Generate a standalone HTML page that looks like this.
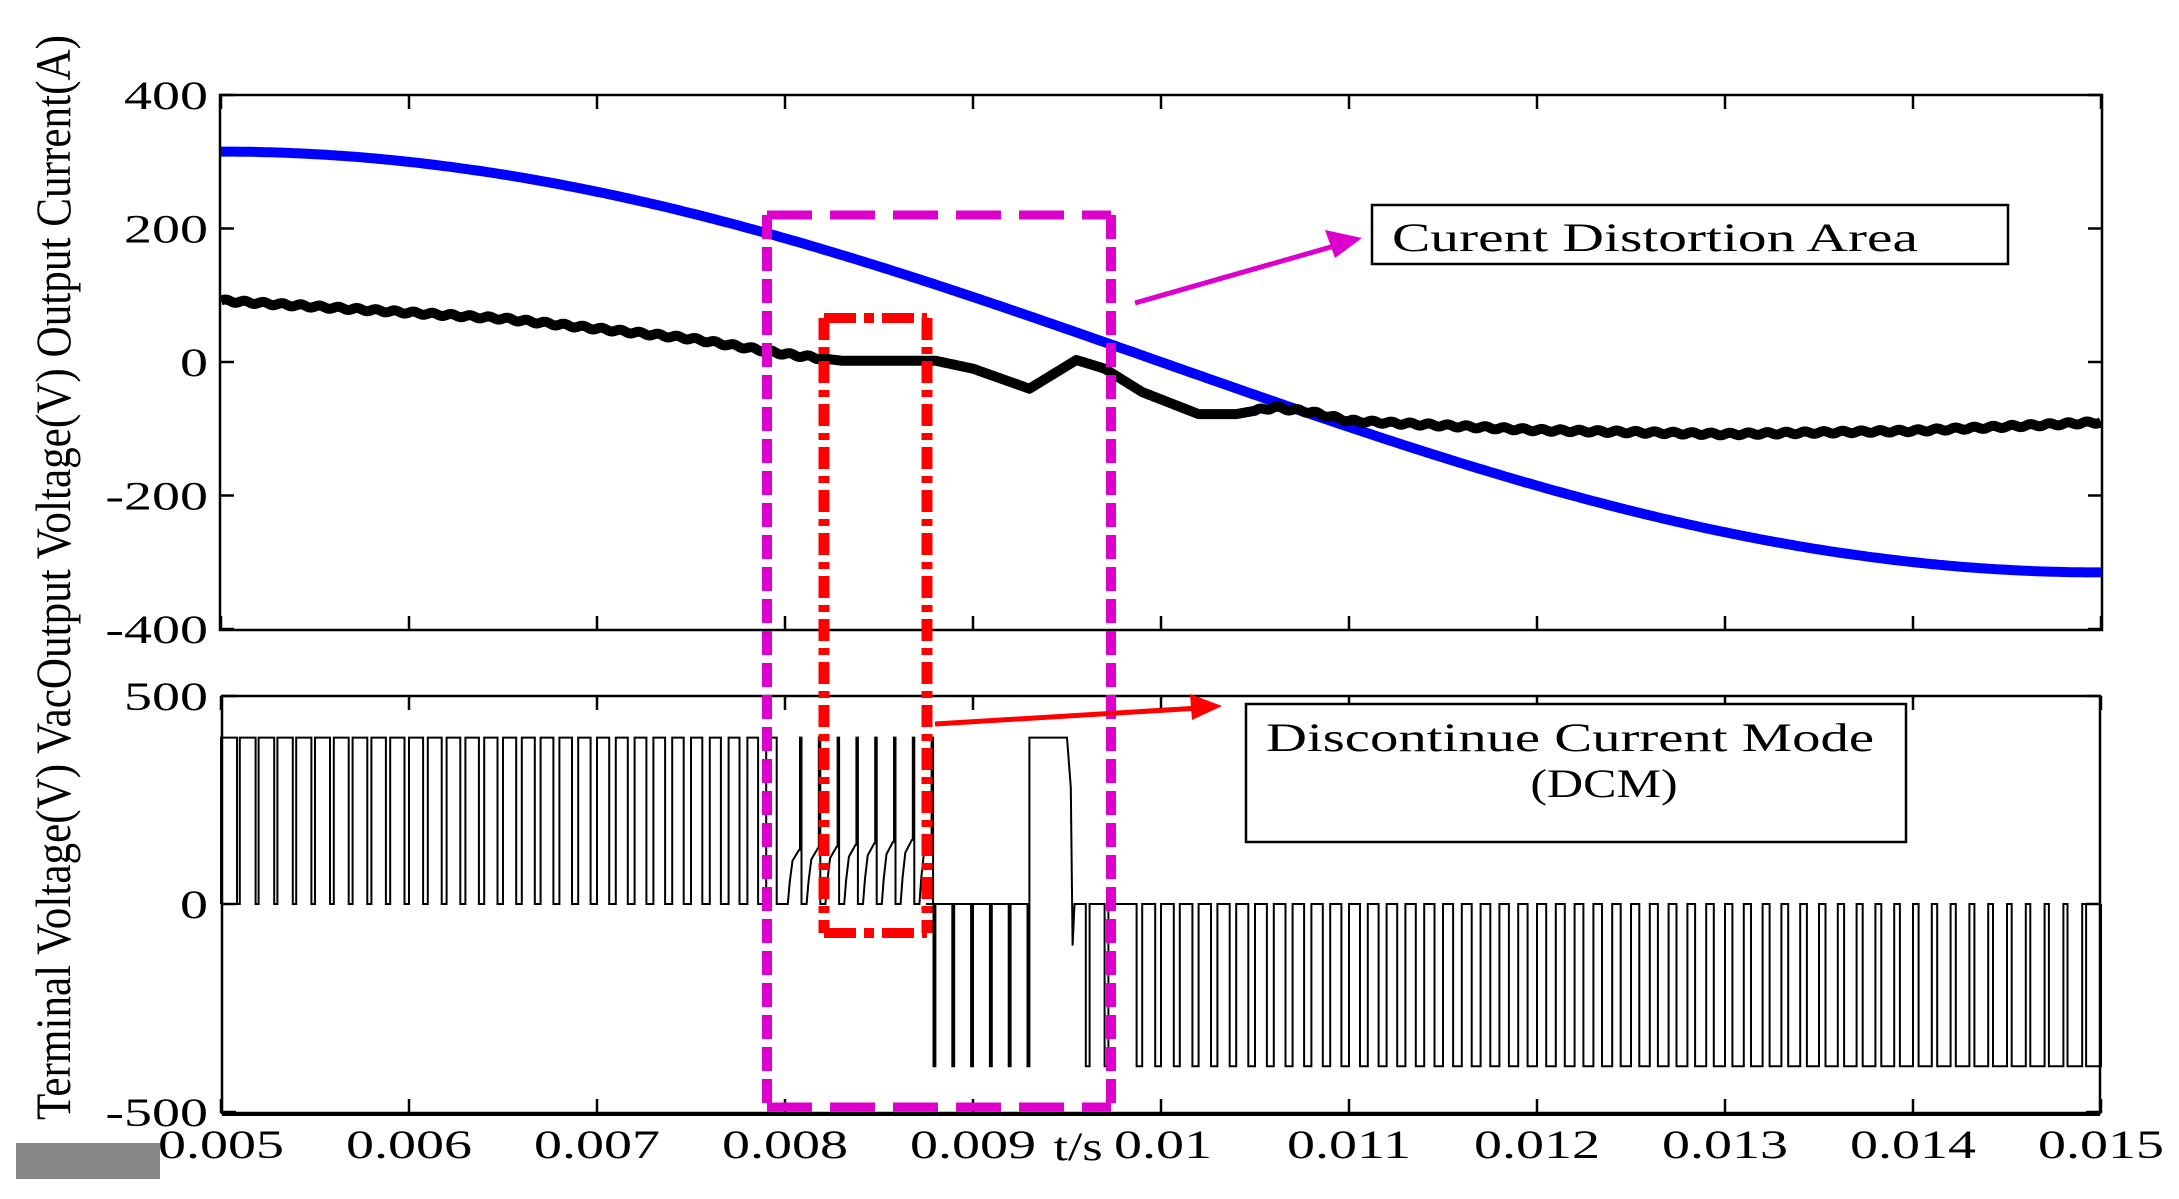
<!DOCTYPE html>
<html><head><meta charset="utf-8"><style>
html,body{margin:0;padding:0;background:#fff;}
svg{display:block;}
text{font-family:"Liberation Serif",serif;fill:#000;}
</style></head><body>
<svg id="s" width="2179" height="1199" viewBox="0 0 2179 1199" xmlns="http://www.w3.org/2000/svg">
<rect width="2179" height="1199" fill="#fff"/>
<g id="g"></g>
</svg>
<script>
var NS="http://www.w3.org/2000/svg",G=document.getElementById('g');
function el(n,a,t){var e=document.createElementNS(NS,n);for(var k in a)e.setAttribute(k,a[k]);if(t!=null)e.textContent=t;G.appendChild(e);return e;}
function X(t){return 221+(t-0.005)*188000;}
function YT(v){return 362-v*0.668;}
function YB(v){return 904-v*0.416;}
el('rect',{x:220,y:95,width:1882,height:535,fill:'none',stroke:'#000','stroke-width':2.5});
el('rect',{x:222,y:696,width:1878,height:417,fill:'none',stroke:'#000','stroke-width':2.5});
el('line',{x1:222,y1:1114,x2:2100,y2:1114,stroke:'#000','stroke-width':4});
for(var i=0;i<=10;i++){var x=221+i*188;
 el('line',{x1:x,y1:95,x2:x,y2:109,stroke:'#000','stroke-width':2.5});
 el('line',{x1:x,y1:630,x2:x,y2:616,stroke:'#000','stroke-width':2.5});
 el('line',{x1:x,y1:696,x2:x,y2:710,stroke:'#000','stroke-width':2.5});
 el('line',{x1:x,y1:1113,x2:x,y2:1099,stroke:'#000','stroke-width':2.5});
}
var yt=[[400,95],[200,228.5],[0,362],[-200,495.5],[-400,629]];
yt.forEach(function(p){
 el('line',{x1:220,y1:p[1],x2:234,y2:p[1],stroke:'#000','stroke-width':2.5});
 el('line',{x1:2102,y1:p[1],x2:2088,y2:p[1],stroke:'#000','stroke-width':2.5});
 el('text',{x:0,y:0,'font-size':40,'text-anchor':'end',transform:'translate(208,'+(p[1]+14)+') scale(1.4,1)'},String(p[0]));
});
[[500,696],[0,904],[-500,1112]].forEach(function(p){
 el('line',{x1:222,y1:p[1],x2:236,y2:p[1],stroke:'#000','stroke-width':2.5});
 el('line',{x1:2100,y1:p[1],x2:2086,y2:p[1],stroke:'#000','stroke-width':2.5});
 el('text',{x:0,y:0,'font-size':40,'text-anchor':'end',transform:'translate(208,'+(p[1]+14)+') scale(1.4,1)'},String(p[0]));
});
var xl=['0.005','0.006','0.007','0.008','0.009','0.01','0.011','0.012','0.013','0.014','0.015'];
xl.forEach(function(s,i){el('text',{x:0,y:0,'font-size':40,'text-anchor':'middle',transform:'translate('+(221+i*188+(s=='0.01'?2:0))+',1158) scale(1.4,1)'},s);});
el('text',{x:0,y:0,'font-size':40,'text-anchor':'middle',transform:'translate(1078,1160) scale(1.3,1)'},'t/s');
el('text',{x:0,y:0,'font-size':50,textLength:1085,lengthAdjust:'spacingAndGlyphs',transform:'translate(70,1120) rotate(-90)'},'Terminal Voltage(V) VacOutput Voltage(V) Output Current(A)');
el('rect',{x:16,y:1143,width:144,height:36,fill:'#888'});
var d='';for(var t=0.005;t<=0.015001;t+=0.00002){var v=315*Math.cos(100*Math.PI*(t-0.005));d+=(d?'L':'M')+X(t).toFixed(1)+','+YT(v).toFixed(1);}
el('path',{d:d,fill:'none',stroke:'#0000ff','stroke-width':10});
var K=[[0.005,92],[0.0065,65],[0.0075,35],[0.008,12],[0.0083,2],[0.0088,2],[0.009,-10],[0.0093,-40],[0.00955,3],[0.0097,-10],[0.0099,-45],[0.0102,-78],[0.0104,-78],[0.0106,-68],[0.0108,-75],[0.011,-88],[0.012,-102],[0.013,-108],[0.014,-103],[0.015,-90]];
function iv(t){for(var i=0;i<K.length-1;i++){if(t<=K[i+1][0]){var f=(t-K[i][0])/(K[i+1][0]-K[i][0]);return K[i][1]+f*(K[i+1][1]-K[i][1]);}}return K[K.length-1][1];}
d='';for(var t=0.005;t<=0.015001;t+=0.00001){var v=iv(t);if(t<0.0082||t>0.0105){v+=2*Math.sin(2*Math.PI*t/0.0001);}d+=(d?'L':'M')+X(t).toFixed(1)+','+YT(v).toFixed(1);}
el('path',{d:d,fill:'none',stroke:'#000','stroke-width':10,'stroke-linejoin':'round'});
var P=0.0001,pts=[];function L(t,v){pts.push(X(t).toFixed(1)+','+YB(v).toFixed(1));}
L(0.005,0);
for(var t0=0.005;t0<0.008-1e-9;t0+=P){var dd=0.85-0.3*(t0-0.005)/0.003;L(t0,0);L(t0,400);L(t0+dd*P,400);L(t0+dd*P,0);}
for(var t0=0.008;t0<0.00875-1e-9;t0+=P){var k=(t0-0.008)/0.00075;var lv=130+30*k;L(t0,0);L(t0+0.15*P,0);L(t0+0.25*P,lv*0.4);L(t0+0.4*P,lv*0.8);L(t0+0.75*P,lv);L(t0+0.8*P,lv);L(t0+0.8*P,400);L(t0+0.88*P,400);L(t0+0.88*P,0);}
for(var t0=0.00875;t0<0.0093-1e-9;t0+=P){L(t0,0);L(t0+0.4*P,0);L(t0+0.4*P,-390);L(t0+0.5*P,-390);L(t0+0.5*P,0);}
L(0.0093,0);L(0.0093,400);L(0.0095,400);L(0.00952,280);L(0.00953,-100);L(0.00954,0);
L(0.0096,0);L(0.0096,-390);L(0.00962,-390);L(0.00962,0);L(0.0097,0);L(0.0097,-390);L(0.00972,-390);L(0.00972,0);
for(var t0=0.0098;t0<0.015-1e-9;t0+=P){var dd=0.3+0.5*(t0-0.0098)/0.0052;L(t0,0);L(t0+(1-dd)*P,0);L(t0+(1-dd)*P,-390);L(t0+P,-390);L(t0+P,0);}
el('path',{d:'M'+pts.join('L'),fill:'none',stroke:'#000','stroke-width':2});
var mg='#dd00cc';
el('line',{x1:767,y1:215,x2:1111,y2:215,stroke:mg,'stroke-width':9,'stroke-dasharray':'45 18'});
el('line',{x1:767,y1:1107,x2:1111,y2:1107,stroke:mg,'stroke-width':9,'stroke-dasharray':'45 18'});
el('line',{x1:767,y1:215,x2:767,y2:1107,stroke:mg,'stroke-width':10,'stroke-dasharray':'24 8'});
el('line',{x1:1111,y1:215,x2:1111,y2:1107,stroke:mg,'stroke-width':10,'stroke-dasharray':'24 8'});
var rd='#ff0000';
el('line',{x1:824,y1:318,x2:927,y2:318,stroke:rd,'stroke-width':10,'stroke-dasharray':'32 8 10 8'});
el('line',{x1:824,y1:933,x2:927,y2:933,stroke:rd,'stroke-width':10,'stroke-dasharray':'32 8 10 8'});
el('line',{x1:824,y1:318,x2:824,y2:933,stroke:rd,'stroke-width':11,'stroke-dasharray':'22 7 7 7'});
el('line',{x1:927,y1:318,x2:927,y2:933,stroke:rd,'stroke-width':11,'stroke-dasharray':'22 7 7 7'});
el('line',{x1:1135,y1:303,x2:1345,y2:243,stroke:mg,'stroke-width':5});
el('polygon',{points:'1362,238 1325,230 1335,258',fill:mg});
el('line',{x1:935,y1:724,x2:1200,y2:708,stroke:rd,'stroke-width':5});
el('polygon',{points:'1222,706 1190,694 1192,720',fill:rd});
el('rect',{x:1372,y:205,width:636,height:59,fill:'#fff',stroke:'#000','stroke-width':2.5});
el('text',{x:0,y:0,'font-size':40,textLength:526,lengthAdjust:'spacingAndGlyphs',transform:'translate(1392,251)'},'Curent Distortion Area');
el('rect',{x:1246,y:704,width:660,height:138,fill:'#fff',stroke:'#000','stroke-width':2.5});
el('text',{x:0,y:0,'font-size':40,textLength:608,lengthAdjust:'spacingAndGlyphs',transform:'translate(1266,751)'},'Discontinue Current Mode');
el('text',{x:0,y:0,'font-size':40,'text-anchor':'middle',transform:'translate(1604,797) scale(1.25,1)'},'(DCM)');
</script>
</body></html>
